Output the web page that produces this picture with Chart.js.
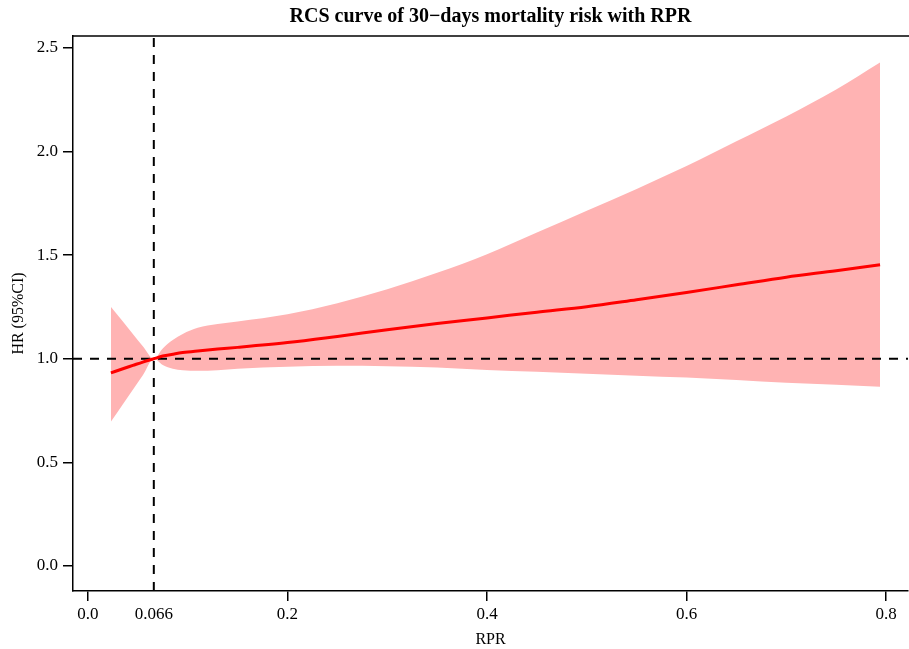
<!DOCTYPE html>
<html>
<head>
<meta charset="utf-8">
<script src="https://cdn.jsdelivr.net/npm/chart.js@4.4.1/dist/chart.umd.min.js"></script>
<style>
  html, body { margin: 0; padding: 0; background: #fff; }
  #wrap { width: 909px; height: 649px; }
</style>
</head>
<body>
<div id="wrap"><canvas id="myChart" width="909" height="649"></canvas></div>
<script>
// values
var rpr = [0.023, 0.035, 0.045, 0.055, 0.066, 0.075, 0.085, 0.095, 0.11, 0.13, 0.15, 0.2, 0.25, 0.3, 0.35, 0.4, 0.45, 0.5, 0.55, 0.6, 0.65, 0.7, 0.75, 0.794];
var hr = [0.932, 0.952, 0.968, 0.984, 1.0, 1.013, 1.022, 1.03, 1.038, 1.047, 1.055, 1.078, 1.108, 1.14, 1.17, 1.197, 1.225, 1.251, 1.285, 1.32, 1.357, 1.394, 1.425, 1.454];
var lowerCI = [0.696, 0.78, 0.85, 0.92, 1.0, 0.97, 0.952, 0.945, 0.942, 0.945, 0.952, 0.962, 0.966, 0.964, 0.958, 0.946, 0.937, 0.928, 0.918, 0.909, 0.897, 0.884, 0.875, 0.865];
var upperCI = [1.25, 1.18, 1.12, 1.06, 1.0, 1.05, 1.09, 1.12, 1.15, 1.168, 1.18, 1.215, 1.268, 1.335, 1.415, 1.505, 1.61, 1.715, 1.82, 1.93, 2.05, 2.17, 2.30, 2.43];
var refRPR = 0.066;
var refHR = 1.0;
var xTicks = [0, 0.066, 0.2, 0.4, 0.6, 0.8];
var xTickLabels = ["0.0", "0.066", "0.2", "0.4", "0.6", "0.8"];
var yTicks = [0, 0.5, 1.0, 1.5, 2.0, 2.5];

var xMin = -0.015, xMax = 0.822;
var yMin = -0.121, yMax = 2.558;

function pts(xs, ys) {
  var out = [];
  for (var i = 0; i < xs.length; i++) out.push({ x: xs[i], y: ys[i] });
  return out;
}

var serif = "'Liberation Serif', 'DejaVu Serif', serif";

// top frame line of the panel
var topLine = {
  id: "topLine",
  afterDraw: function (chart) {
    var ctx = chart.ctx, a = chart.chartArea;
    ctx.save();
    ctx.strokeStyle = "#000";
    ctx.lineWidth = 1.5;
    ctx.beginPath();
    ctx.moveTo(a.left - 0.75, a.top);
    ctx.lineTo(chart.width, a.top);
    ctx.stroke();
    ctx.restore();
  }
};

new Chart("myChart", {
  type: "line",
  data: {
    datasets: [
      {
        label: "lower",
        data: pts(rpr, lowerCI),
        borderWidth: 0,
        pointRadius: 0,
        fill: false,
        cubicInterpolationMode: "monotone",
        order: 3
      },
      {
        label: "upper",
        data: pts(rpr, upperCI),
        borderWidth: 0,
        pointRadius: 0,
        backgroundColor: "#FFB3B3",
        fill: "-1",
        cubicInterpolationMode: "monotone",
        order: 3
      },
      {
        label: "refV",
        data: [{ x: refRPR, y: yMin }, { x: refRPR, y: yMax }],
        borderColor: "#000",
        borderWidth: 2,
        borderDash: [9, 8],
        pointRadius: 0,
        fill: false,
        order: 2
      },
      {
        label: "refH",
        data: [{ x: xMin, y: refHR }, { x: xMax, y: refHR }],
        borderColor: "#000",
        borderWidth: 2,
        borderDash: [9, 8],
        pointRadius: 0,
        fill: false,
        order: 2
      },
      {
        label: "HR",
        data: pts(rpr, hr),
        borderColor: "#FF0000",
        borderWidth: 3,
        pointRadius: 0,
        fill: false,
        cubicInterpolationMode: "monotone",
        order: 0
      }
    ]
  },
  options: {
    responsive: false,
    animation: false,
    layout: { padding: { left: 0, right: 1, top: 0, bottom: 0 } },
    plugins: {
      legend: { display: false },
      tooltip: { enabled: false },
      title: {
        display: true,
        fullSize: false,
        text: "RCS curve of 30\u2212days mortality risk with RPR",
        color: "#000",
        font: { family: serif, size: 20, weight: "bold" },
        padding: { top: 5, bottom: 7 }
      }
    },
    scales: {
      x: {
        type: "linear",
        min: xMin,
        max: xMax,
        afterBuildTicks: function (axis) {
          axis.ticks = xTicks.map(function (v) { return { value: v }; });
        },
        afterFit: function (scale) { scale.height = 58; },
        grid: {
          drawOnChartArea: false,
          drawTicks: true,
          tickLength: 10,
          lineWidth: 1.5,
          color: function (ctx) {
            return ctx.tick && ctx.tick.value === refRPR ? "rgba(0,0,0,0)" : "#000";
          }
        },
        border: { display: true, color: "#000", width: 1.5 },
        ticks: {
          autoSkip: false,
          maxRotation: 0,
          padding: 3,
          color: "#000",
          font: { family: serif, size: 17 },
          callback: function (v, i) { return xTickLabels[i]; }
        },
        title: {
          display: true,
          text: "RPR",
          color: "#000",
          font: { family: serif, size: 16 },
          padding: { top: 0, bottom: 0 }
        }
      },
      y: {
        type: "linear",
        min: yMin,
        max: yMax,
        afterBuildTicks: function (axis) {
          axis.ticks = yTicks.map(function (v) { return { value: v }; });
        },
        afterFit: function (scale) { scale.width = 73; },
        grid: {
          drawOnChartArea: false,
          drawTicks: true,
          tickLength: 10,
          lineWidth: 1.5,
          color: "#000"
        },
        border: { display: true, color: "#000", width: 1.5 },
        ticks: {
          autoSkip: false,
          padding: 5,
          color: "#000",
          font: { family: serif, size: 17 },
          callback: function (v) { return Number(v).toFixed(1); }
        },
        title: {
          display: true,
          text: "HR (95%CI)",
          color: "#000",
          font: { family: serif, size: 16 },
          padding: { top: 9.5, bottom: 0 }
        }
      }
    }
  },
  plugins: [topLine]
});
</script>
</body>
</html>
